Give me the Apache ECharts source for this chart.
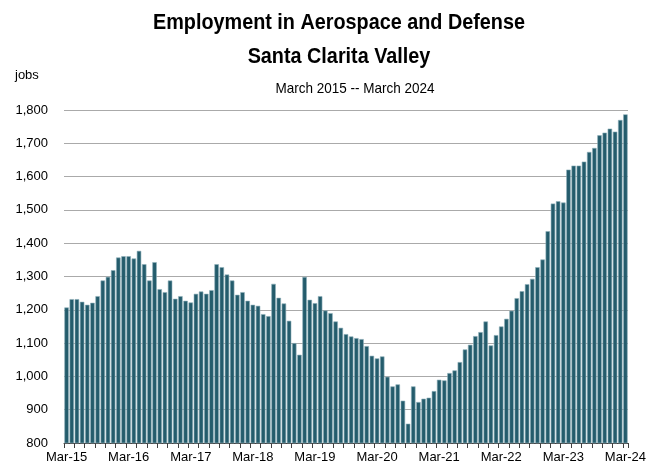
<!DOCTYPE html>
<html><head><meta charset="utf-8">
<script src="https://cdn.jsdelivr.net/npm/echarts@6/dist/echarts.min.js"></script>
<style>html,body{margin:0;padding:0;background:#fff}#c{width:661px;height:472px}</style>
</head><body><div id="c"></div>
<script>
const months = ['Jan','Feb','Mar','Apr','May','Jun','Jul','Aug','Sep','Oct','Nov','Dec'];
const startYear = 2015, startMonth = 2, nMonths = 109;
const categories = [];
for (let i = 0; i < nMonths; i++) {
  const m = (startMonth + i) % 12, y = startYear + Math.floor((startMonth + i) / 12);
  categories.push(months[m] + '-' + String(y).slice(2));
}
const jobs = [
  1207,1232,1232,1224,1215,1221,1241,1288,1299,1319,1357,1361,
  1361,1354,1377,1337,1288,1343,1262,1253,1288,1233,1241,1227,
  1222,1248,1255,1248,1259,1337,1328,1306,1288,1245,1253,1227,
  1215,1212,1187,1181,1278,1236,1219,1167,1100,1065,1299,1230,
  1220,1241,1198,1190,1165,1146,1127,1120,1115,1112,1091,1062,
  1054,1060,999,970,976,927,858,970,923,933,936,956,
  990,988,1010,1018,1043,1081,1095,1121,1133,1165,1093,1124,
  1150,1173,1197,1235,1256,1277,1293,1328,1351,1436,1519,1526,
  1522,1621,1633,1633,1645,1674,1686,1724,1732,1744,1735,1770,
  1787
];
const titleLines = ['Employment in Aerospace and Defense', 'Santa Clarita Valley'];
const subtitle = 'March 2015 -- March 2024';
const unitLabel = 'jobs';
const FONT = '"Liberation Sans", Arial, sans-serif';

const chart = echarts.init(document.getElementById('c'), null, {renderer: 'canvas'});
chart.setOption({
  animation: false,
  backgroundColor: '#ffffff',
  graphic: [
    {type: 'text', x: 339, y: 23, scaleX: 0.9, style: {text: titleLines[0], textAlign: 'center', textVerticalAlign: 'middle', font: 'bold 22px ' + FONT, fill: '#000'}},
    {type: 'text', x: 339, y: 57, scaleX: 0.9, style: {text: titleLines[1], textAlign: 'center', textVerticalAlign: 'middle', font: 'bold 22px ' + FONT, fill: '#000'}},
    {type: 'text', x: 355, y: 89, scaleX: 0.9, style: {text: subtitle, textAlign: 'center', textVerticalAlign: 'middle', font: '15px ' + FONT, fill: '#000'}},
    {type: 'text', x: 15, y: 75, style: {text: unitLabel, textAlign: 'left', textVerticalAlign: 'middle', font: '13px ' + FONT, fill: '#000'}}
  ],
  grid: {left: 64, right: 33, top: 110, bottom: 29, containLabel: false},
  xAxis: {
    type: 'category', data: categories, boundaryGap: true,
    axisLine: {show: true, lineStyle: {color: '#404040', width: 1}},
    axisTick: {show: true, interval: 1, length: 5, lineStyle: {color: '#404040'}},
    axisLabel: {interval: 11, color: '#000', fontSize: 13, fontFamily: FONT, margin: 8},
    splitLine: {show: false}
  },
  yAxis: {
    type: 'value', min: 800, max: 1800, interval: 100,
    axisLine: {show: false}, axisTick: {show: false},
    axisLabel: {color: '#000', fontSize: 13, fontFamily: FONT, margin: 16,
      formatter: v => v.toLocaleString('en-US')},
    splitLine: {show: true, lineStyle: {color: '#aaaaaa', width: 1}}
  },
  series: [{
    type: 'bar', data: jobs, barCategoryGap: '14%',
    itemStyle: {color: '#245c6c', borderColor: '#8fb0ba', borderWidth: 0.6}
  }]
});
</script></body></html>
